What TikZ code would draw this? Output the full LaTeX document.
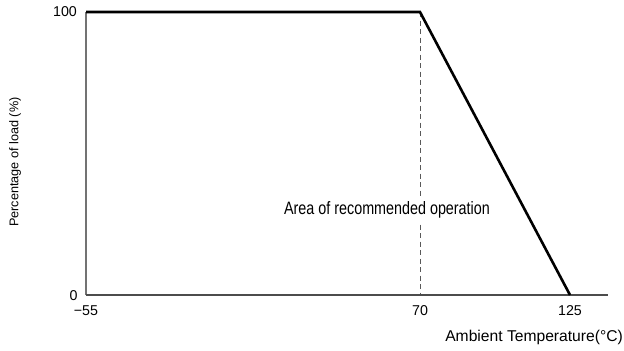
\documentclass[tikz,border=0pt]{standalone}
\usepackage{fontspec}
\setmainfont{Liberation Sans}
\newfontfamily\narrowfont[FakeStretch=0.8]{Liberation Sans}
\begin{document}
\begin{tikzpicture}[x=1bp,y=-1bp,
  lbl/.style={inner sep=0pt,font=\fontsize{14.3}{16}\selectfont},
  curve/.style={line width=2.6bp,black,line join=miter},
  yaxis/.style={line width=1.6bp,color=black!55},
  xaxis/.style={line width=1.4bp,color=black!70},
  guide/.style={line width=1bp,color=black!65,dash pattern=on 5bp off 3.5bp}]
\useasboundingbox (0,0) rectangle (624,350);
\coordinate (O) at (86,295);
\coordinate (Ytop) at (86,12);
\coordinate (K) at (420,12);
\coordinate (D) at (420,295);
\coordinate (E) at (570,295);
\coordinate (Xend) at (608,295);
\draw[guide] (K) -- (D);
\draw[yaxis] (O) -- (Ytop);
\draw[xaxis] (O) -- (Xend);
\draw[curve] (Ytop) -- (K) -- (E);
\node[lbl,fill=white,inner sep=2.5bp,font=\narrowfont\fontsize{18}{20}\selectfont] (area) at (387,210) {Area of recommended operation};
\node[lbl] (l100) at (65,12) {100};
\node[lbl] (l0) at (73.5,296) {0};
\node[lbl] (lm55) at (86,311) {−55};
\node[lbl] (l70) at (420,311) {70};
\node[lbl] (l125) at (570,311) {125};
\node[lbl,anchor=east,font=\fontsize{15.7}{18}\selectfont] (xlabel) at (623,337) {Ambient Temperature(°C)};
\node[lbl,rotate=90,font=\fontsize{12.7}{14}\selectfont] (ylabel) at (15,162) {Percentage of load (\%)};
\end{tikzpicture}
\end{document}
